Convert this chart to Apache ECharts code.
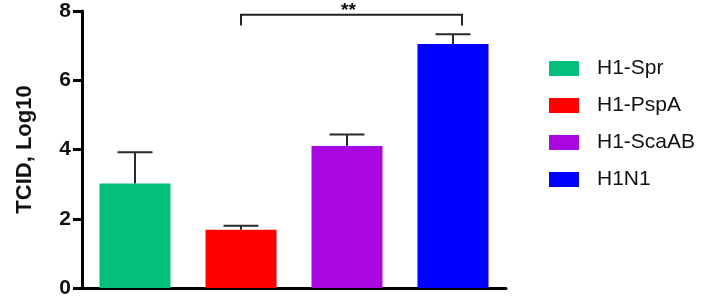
<!DOCTYPE html>
<html>
<head>
<meta charset="utf-8">
<script src="https://cdn.jsdelivr.net/npm/echarts@6/dist/echarts.min.js"></script>
<style>html,body{margin:0;padding:0;background:#fff}#c{width:706px;height:299px}</style>
</head>
<body>
<div id="c"></div>
<script>
var categories = ['H1-Spr', 'H1-PspA', 'H1-ScaAB', 'H1N1'];
var means = [3.02, 1.68, 4.10, 7.05];
var upper = [3.92, 1.80, 4.43, 7.33];
var colors = ['#03BF7B', '#FF0000', '#AA08E0', '#0000FF'];
var yTicks = [0, 2, 4, 6, 8];
var bracket = { from: 1, to: 3, top: 7.89, bottom: 7.58, label: '**' };

var FONT = 'Liberation Sans, Arial, sans-serif';
var chart = echarts.init(document.getElementById('c'));

var series = categories.map(function (name, i) {
  return {
    name: name,
    type: 'bar',
    barWidth: '67%',
    barGap: '-100%',
    itemStyle: { color: colors[i] },
    data: categories.map(function (c, j) { return j === i ? means[j] : '-'; }),
    silent: true
  };
});

series.push({
  type: 'custom',
  name: 'err',
  silent: true,
  z: 5,
  data: categories.map(function (c, i) { return [i, means[i], upper[i]]; }),
  renderItem: function (params, api) {
    var p0 = api.coord([api.value(0), api.value(1)]);
    var p1 = api.coord([api.value(0), api.value(2)]);
    var bw = api.size([1, 0])[0];
    var half = bw * 0.165;
    return {
      type: 'group',
      children: [
        { type: 'line', shape: { x1: p0[0], y1: p0[1], x2: p1[0], y2: p1[1] }, style: { stroke: '#2a2a2a', lineWidth: 2 } },
        { type: 'line', shape: { x1: p1[0] - half, y1: p1[1], x2: p1[0] + half, y2: p1[1] }, style: { stroke: '#2a2a2a', lineWidth: 2 } }
      ]
    };
  }
});

series.push({
  type: 'custom',
  name: 'bracket',
  silent: true,
  z: 5,
  data: [[bracket.from, bracket.to, bracket.top, bracket.bottom]],
  renderItem: function (params, api) {
    var bw = api.size([1, 0])[0];
    var a = api.coord([api.value(0), api.value(2)]);
    var b = api.coord([api.value(1), api.value(2)]);
    var lo = api.coord([api.value(0), api.value(3)]);
    var x1 = a[0], x2 = b[0] + bw * 0.085, yt = a[1], yb = lo[1];
    return {
      type: 'group',
      children: [
        { type: 'polyline', shape: { points: [[x1, yb], [x1, yt], [x2, yt], [x2, yb]] }, style: { stroke: '#222', lineWidth: 2, fill: null } },
        { type: 'text', style: { text: bracket.label, x: (x1 + x2) / 2 - 3, y: yt - 4, align: 'center', verticalAlign: 'middle', font: 'bold 19px ' + FONT, fill: '#111' } }
      ]
    };
  }
});

chart.setOption({
  animation: false,
  grid: { left: 82, right: 200, top: 11, bottom: 11, containLabel: false },
  legend: {
    data: categories,
    orient: 'vertical',
    left: 544,
    top: 53,
    itemWidth: 30,
    itemHeight: 15,
    itemGap: 16,
    icon: 'rect',
    textStyle: { fontSize: 21, fontFamily: FONT, color: '#111', padding: [0, 0, 0, 13] },
    selectedMode: false
  },
  xAxis: {
    type: 'category',
    data: categories,
    axisLine: { lineStyle: { color: '#000', width: 3 } },
    axisTick: { alignWithLabel: true, length: 10, lineStyle: { color: '#000', width: 2.5 } },
    axisLabel: { show: false },
    splitLine: { show: false }
  },
  yAxis: {
    type: 'value',
    min: yTicks[0],
    max: yTicks[yTicks.length - 1],
    interval: 2,
    name: 'TCID, Log10',
    nameLocation: 'middle',
    nameGap: 46,
    nameTextStyle: { fontSize: 22, fontWeight: 'bold', fontFamily: FONT, color: '#111' },
    axisLine: { show: true, lineStyle: { color: '#000', width: 3 } },
    axisTick: { show: true, length: 9, lineStyle: { color: '#000', width: 3 } },
    axisLabel: { fontSize: 21, fontWeight: 'bold', fontFamily: FONT, color: '#111', margin: 11 },
    splitLine: { show: false }
  },
  series: series
});
</script>
</body>
</html>
